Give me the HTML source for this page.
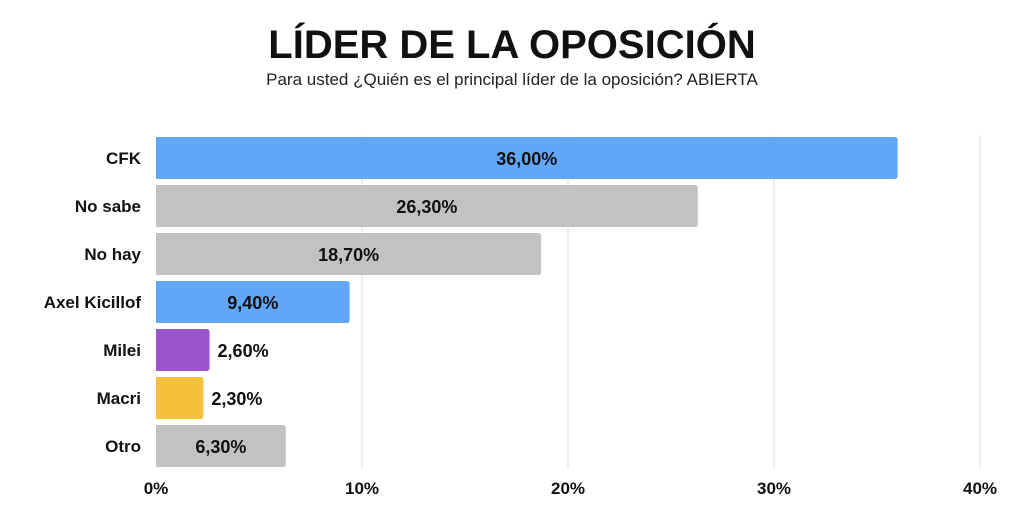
<!DOCTYPE html>
<html><head><meta charset="utf-8"><style>
body{margin:0;background:#fff;width:1024px;height:516px;overflow:hidden;font-family:"Liberation Sans",sans-serif}
</style></head><body>
<svg width="1024" height="516" xmlns="http://www.w3.org/2000/svg">
<text x="512" y="58" text-anchor="middle" font-size="40" font-weight="bold" fill="#111">LÍDER DE LA OPOSICIÓN</text>
<text x="512" y="85" text-anchor="middle" font-size="17" fill="#222">Para usted ¿Quién es el principal líder de la oposición? ABIERTA</text>
<g id="grid"></g><g id="bars"></g><g id="ticks"></g>
</svg>
<script>
const categories=["CFK","No sabe","No hay","Axel Kicillof","Milei","Macri","Otro"];
const values=[36.0,26.3,18.7,9.4,2.6,2.3,6.3];
const colors=["#62a6f8","#c2c2c2","#c2c2c2","#62a6f8","#9b55cc","#f4c13a","#c2c2c2"];
const tickValues=[0,10,20,30,40];
const tickLabels=["0%","10%","20%","30%","40%"];
const NS="http://www.w3.org/2000/svg";
const x0=156,x1=980,maxV=40,top0=137,step=48,bh=42;
const xs=v=>x0+(x1-x0)*v/maxV;
const ys=i=>top0+i*step;
function mk(tag,attrs,parent){const e=document.createElementNS(NS,tag);for(const k in attrs)e.setAttribute(k,attrs[k]);document.getElementById(parent).appendChild(e);return e;}
tickValues.forEach((t,i)=>{
 if(t>0){const l=mk("line",{x1:xs(t),x2:xs(t),y1:135,y2:468,stroke:"#dedede","stroke-width":1},"grid");
 
 }
 const tx=mk("text",{x:xs(t),y:494,"text-anchor":"middle","font-size":17,"font-weight":"bold",fill:"#111"},"ticks");
 tx.textContent=tickLabels[i];
 
 
});
categories.forEach((c,i)=>{
 const y=ys(i),w=xs(values[i])-x0;
 const r=mk("path",{d:`M${x0},${y}H${x0+w-3}Q${x0+w},${y} ${x0+w},${y+3}V${y+bh-3}Q${x0+w},${y+bh} ${x0+w-3},${y+bh}H${x0}Z`,fill:colors[i]},"bars");
 
 
 const lab=mk("text",{x:141,y:y+bh/2+6,"text-anchor":"end","font-size":17,"font-weight":"bold",fill:"#111"},"bars");
 lab.textContent=c;
 
 
 const txt=values[i].toFixed(2).replace(".",",")+"%";
 const inside=values[i]>5;
 const v=mk("text",{x:inside?x0+w/2:x0+w+8,y:y+bh/2+7,"text-anchor":inside?"middle":"start","font-size":18,"font-weight":"bold",fill:"#111"},"bars");
 v.textContent=txt;
 
 
});
</script>
</body></html>
